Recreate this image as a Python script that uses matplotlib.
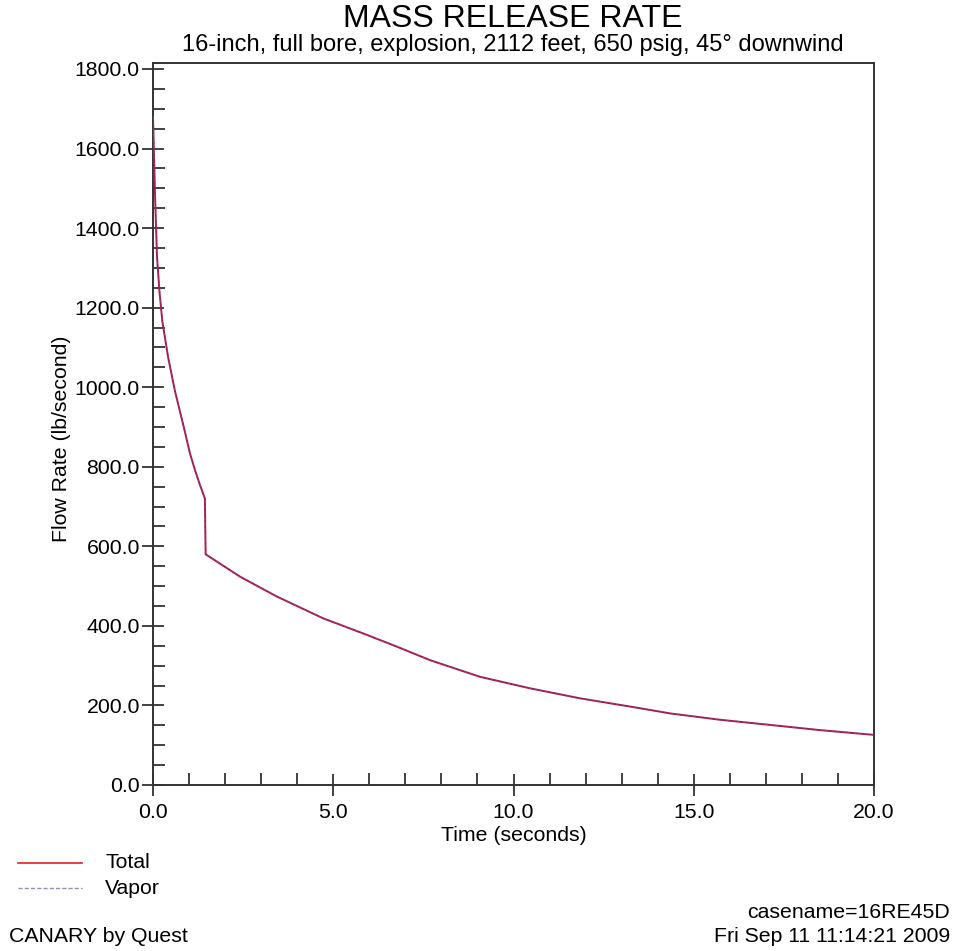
import matplotlib
matplotlib.use("Agg")
import matplotlib.pyplot as plt
from matplotlib.lines import Line2D
from matplotlib.ticker import MultipleLocator, FormatStrFormatter

plt.rcParams['font.family'] = ['Liberation Sans', 'DejaVu Sans']

# Data (time in seconds, flow rate in lb/s)
time = [0.0, 0.055, 0.11, 0.18, 0.26, 0.42, 0.61, 0.84, 1.03, 1.17, 1.30, 1.44,
        1.46, 2.41, 3.43, 4.72, 5.83, 6.76, 7.68, 9.07, 10.46, 11.84,
        13.51, 14.34, 15.73, 17.12, 18.5, 20.0]
total = [1680, 1488, 1330, 1240, 1165, 1075, 990, 905, 832, 790, 755, 720,
         580, 524, 474, 419, 381, 348, 314, 272, 243, 218,
         193, 180, 164, 151, 138, 126]
vapor = list(total)

title = "MASS RELEASE RATE"
subtitle = "16-inch, full bore, explosion, 2112 feet, 650 psig, 45\u00b0 downwind"
xlabel = "Time (seconds)"
ylabel = "Flow Rate (lb/second)"
series_names = ["Total", "Vapor"]

W, H = 956, 951
FS = 15.3
fig = plt.figure(figsize=(W / 100, H / 100), dpi=100)
ax = fig.add_axes([153 / W, 1 - 785 / H, (874 - 153) / W, (785 - 63) / H])

ax.plot(time, total, color='#a3174c', lw=1.4, zorder=3)
ax.plot(time, vapor, color='#8a8ac8', lw=0.8, ls=(0, (3, 2)), alpha=0.25, zorder=4)

ax.set_xlim(0, 20)
ax.set_ylim(0, 1815)
ax.xaxis.set_major_locator(MultipleLocator(5))
ax.xaxis.set_minor_locator(MultipleLocator(1))
ax.yaxis.set_minor_locator(MultipleLocator(50))
ax.xaxis.set_major_formatter(FormatStrFormatter('%.1f'))
ax.yaxis.set_major_formatter(FormatStrFormatter('%.1f'))
ax.set_yticks([v for v in range(0, 1801, 200)])

for s in ax.spines.values():
    s.set_linewidth(1.4)
    s.set_color('#333333')

ax.tick_params(which='major', direction='inout', length=16, width=1.3,
               color='#333333', labelsize=FS, pad=1.5)
ax.tick_params(axis='x', which='major', pad=5)
ax.tick_params(which='minor', direction='in', length=8.5, width=1.3, color='#333333')

ax.set_xlabel(xlabel, fontsize=FS, labelpad=3)
ax.set_ylabel(ylabel, fontsize=FS)
ax.yaxis.set_label_coords((71 - 153) / 721, 0.48)

fig.text(513 / W, 1 - 19 / H, title, ha='center', va='center', fontsize=23)
fig.text(513 / W, 1 - 45 / H, subtitle, ha='center', va='center', fontsize=17)

# legend drawn in figure coordinates
fig.add_artist(Line2D([18 / W, 82 / W], [1 - 863 / H, 1 - 863 / H], color='#e02020', lw=1.2))
fig.add_artist(Line2D([18 / W, 82 / W], [1 - 888 / H, 1 - 888 / H], color='#9090c8',
                      lw=1.0, ls=(0, (3, 1.5))))
fig.text(105 / W, 1 - 863 / H, series_names[0], ha='left', va='center', fontsize=FS)
fig.text(105 / W, 1 - 888 / H, series_names[1], ha='left', va='center', fontsize=FS)

fig.text(9 / W, 1 - 937 / H, "CANARY by Quest", ha='left', va='center', fontsize=FS)
fig.text(950 / W, 1 - 912 / H, "casename=16RE45D", ha='right', va='center', fontsize=FS)
fig.text(950 / W, 1 - 937 / H, "Fri Sep 11 11:14:21 2009", ha='right', va='center', fontsize=FS)

fig.savefig("out.png", dpi=100, facecolor='white')
